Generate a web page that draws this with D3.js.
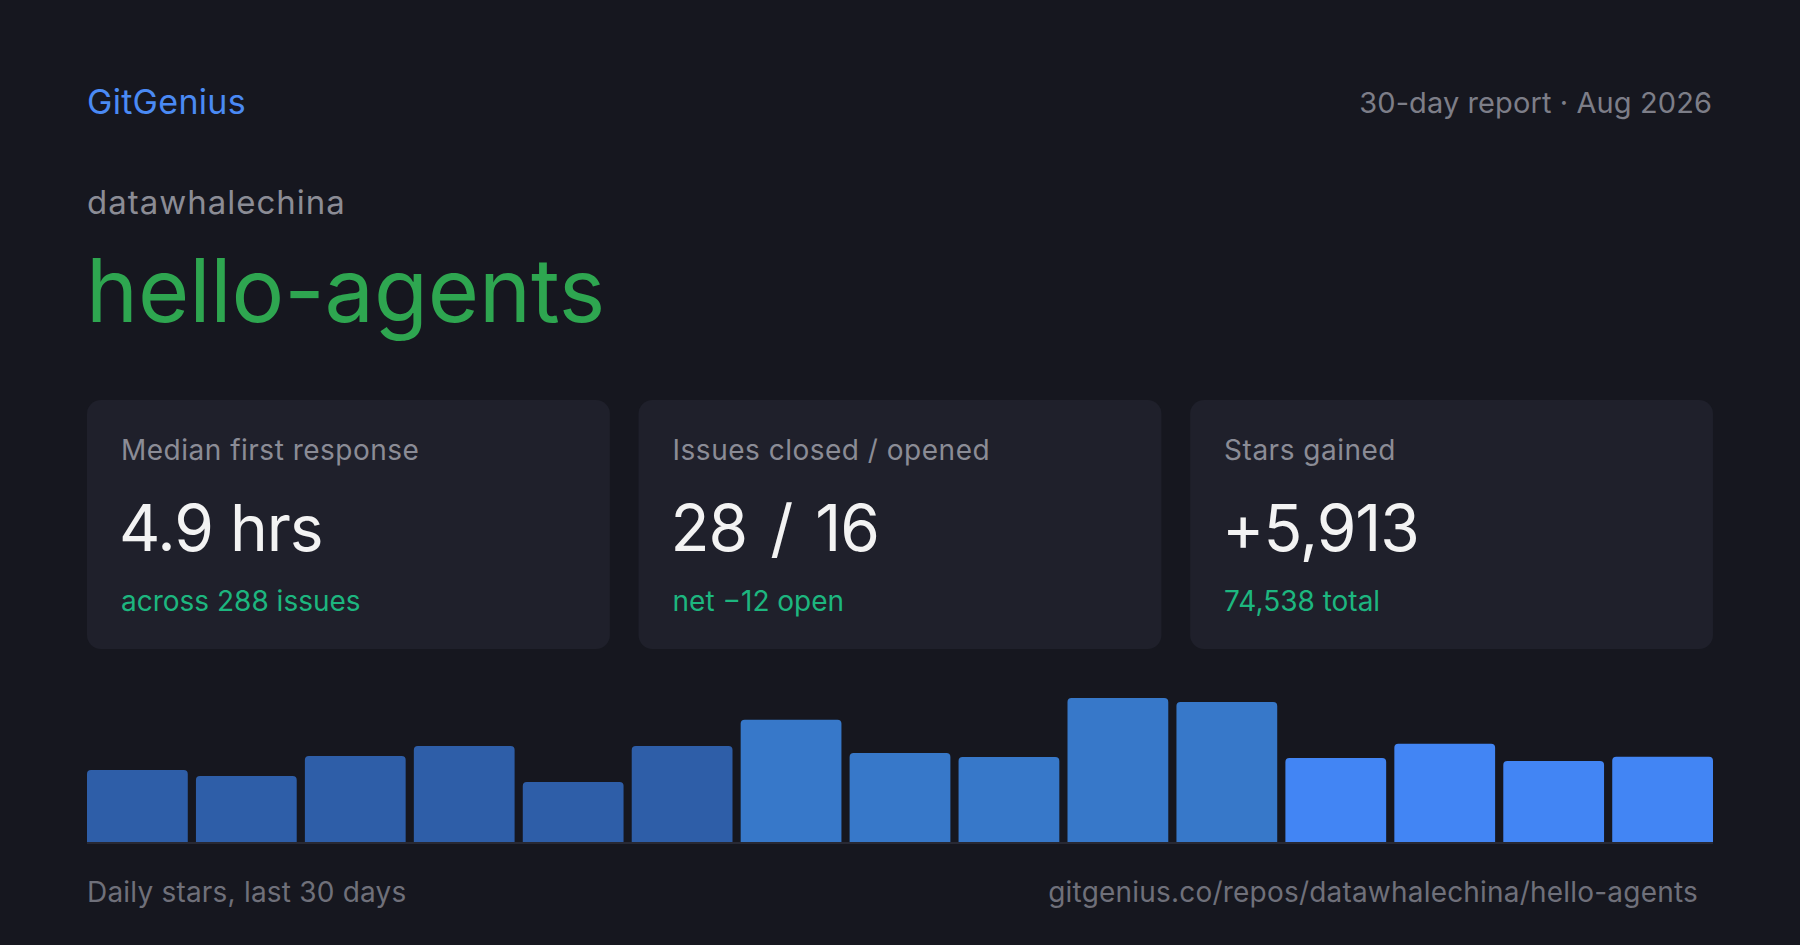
<!DOCTYPE html>
<html>
<head>
<meta charset="utf-8">
<script src="https://cdn.jsdelivr.net/npm/d3@7"></script>
<style>
  html, body { margin: 0; padding: 0; background: #16171f; }
  svg { display: block; font-family: Inter, "Noto Sans", sans-serif; }
</style>
</head>
<body>
<svg id="card" width="1800" height="945"></svg>
<script>
var width = 1800;
var height = 945;

// header texts
var brand = "GitGenius";
var period = "30-day report \u00b7 Aug 2026";
var owner = "datawhalechina";
var repo = "hello-agents";

// stat cards
var statLabels = ["Median first response", "Issues closed / opened", "Stars gained"];
var statValues = ["4.9 hrs", "28 / 16", "+5,913"];
var statNotes = ["across 288 issues", "net \u221212 open", "74,538 total"];

// daily stars, 15 bars (two days each), sums to 5,913
var starBuckets = d3.range(1, 16);
var starCounts = [303, 278, 362, 404, 253, 404, 514, 375, 358, 606, 589, 354, 413, 341, 359];

var footLeft = "Daily stars, last 30 days";
var footRight = "gitgenius.co/repos/datawhalechina/hello-agents";

var left = 87;
var right = 1713;

var svg = d3.select("#card");

svg.append("rect")
  .attr("width", width)
  .attr("height", height)
  .attr("fill", "#16171f");

// HEADER
svg.append("text")
  .attr("x", left)
  .attr("y", 114)
  .attr("fill", "#4a8af4")
  .style("font-size", "34px")
  .style("letter-spacing", "0.3px")
  .text(brand);

svg.append("text")
  .attr("x", right - 1)
  .attr("y", 113)
  .attr("fill", "#7d7e88")
  .style("font-size", "29px")
  .style("letter-spacing", "0.1px")
  .style("text-anchor", "end")
  .text(period);

svg.append("text")
  .attr("x", left)
  .attr("y", 214)
  .attr("fill", "#8b8c95")
  .style("font-size", "33px")
  .style("letter-spacing", "1px")
  .text(owner);

svg.append("text")
  .attr("x", left - 1)
  .attr("y", 322)
  .attr("fill", "#2ea650")
  .style("font-size", "88px")
  .style("letter-spacing", "-0.1px")
  .text(repo);

// STAT CARDS
var cardX = d3.scaleBand()
  .domain(d3.range(statLabels.length))
  .range([left, right])
  .paddingInner(0.052);

var cards = svg.selectAll("g.stat")
  .data(statLabels)
  .enter()
  .append("g")
  .attr("class", "stat")
  .attr("transform", (d, i) => `translate(${cardX(i)}, 400)`);

cards.append("rect")
  .attr("width", cardX.bandwidth())
  .attr("height", 249)
  .attr("rx", 14)
  .attr("fill", "#1f202b");

cards.append("text")
  .attr("x", 34)
  .attr("y", 60)
  .attr("fill", "#8b8c96")
  .style("font-size", "28px")
  .style("letter-spacing", "0.5px")
  .text((d) => d);

// the slash sits wider in the original type
cards.append("text")
  .attr("x", 32)
  .attr("y", 151)
  .attr("fill", "#f3f3f3")
  .style("font-size", "64px")
  .style("letter-spacing", "-1px")
  .style("word-spacing", (d, i) => (statValues[i].includes("/") ? "6px" : "0px"))
  .text((d, i) => statValues[i]);

cards.append("text")
  .attr("x", 34)
  .attr("y", 211)
  .attr("fill", "#1db67f")
  .style("font-size", "28px")
  .text((d, i) => statNotes[i]);

// BAR CHART
var baseY = 842;
var xScale = d3.scaleBand()
  .domain(starBuckets)
  .range([left, right])
  .paddingInner(0.075);

var yScale = d3.scaleLinear()
  .domain([0, d3.max(starCounts)])
  .range([baseY, 698]);

// older buckets are dimmer
var tone = (i) => (i < 6 ? "#2e5ea8" : i < 11 ? "#3778c9" : "#4285f4");

function topRounded(x, y, w, h, r) {
  return `M${x},${y + h}V${y + r}Q${x},${y} ${x + r},${y}H${x + w - r}Q${x + w},${y} ${x + w},${y + r}V${y + h}Z`;
}

svg.append("g")
  .selectAll("path")
  .data(starCounts)
  .enter()
  .append("path")
  .attr("d", (d, i) => {
    var x = xScale(starBuckets[i]);
    var y = yScale(d);
    return topRounded(x, y, xScale.bandwidth(), baseY - y, 4);
  })
  .attr("fill", (d, i) => tone(i));

// baseline
svg.append("rect")
  .attr("x", left)
  .attr("y", baseY)
  .attr("width", right - left)
  .attr("height", 2)
  .attr("fill", "#282934");

// FOOTER
svg.append("text")
  .attr("x", left)
  .attr("y", 902)
  .attr("fill", "#6f707a")
  .style("font-size", "28px")
  .style("letter-spacing", "0.2px")
  .text(footLeft);

svg.append("text")
  .attr("x", 1698)
  .attr("y", 902)
  .attr("fill", "#6f707a")
  .style("font-size", "28px")
  .style("letter-spacing", "0.2px")
  .style("text-anchor", "end")
  .text(footRight);
</script>
</body>
</html>
